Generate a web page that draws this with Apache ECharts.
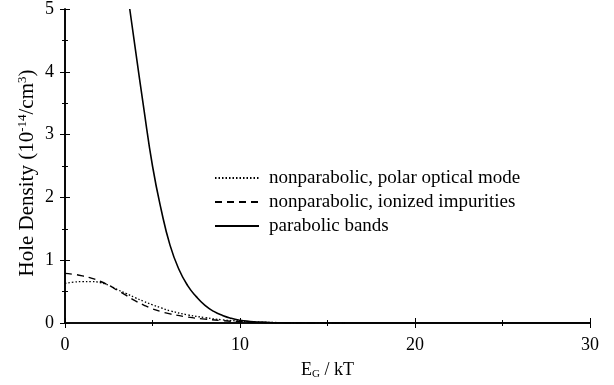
<!DOCTYPE html>
<html><head><meta charset="utf-8">
<script src="https://cdn.jsdelivr.net/npm/echarts@6/dist/echarts.min.js"></script>
<style>html,body{margin:0;padding:0;background:#fff}#c{width:614px;height:385px}</style>
</head><body><div id="c"></div>
<script>
var xTicks = [0, 10, 20, 30];
var yTicks = [0, 1, 2, 3, 4, 5];
var seriesNames = ['nonparabolic, polar optical mode', 'nonparabolic, ionized impurities', 'parabolic bands'];
var dottedX = [0, 0.5, 1, 1.5, 2, 2.5, 3, 3.5, 4, 4.5, 5, 5.5, 6, 7, 8, 9, 10, 11, 12, 14, 16];
var dottedY = [0.63, 0.65, 0.66, 0.66, 0.645, 0.6, 0.53, 0.47, 0.405, 0.345, 0.29, 0.24, 0.195, 0.13, 0.085, 0.05, 0.03, 0.016, 0.008, 0.002, 0];
var dashedX = [0, 0.5, 1, 1.5, 2, 2.5, 3, 3.5, 4, 4.5, 5, 5.5, 6, 7, 8, 9, 10, 11, 12, 14, 16];
var dashedY = [0.79, 0.775, 0.75, 0.715, 0.665, 0.6, 0.52, 0.44, 0.355, 0.285, 0.225, 0.18, 0.145, 0.095, 0.062, 0.038, 0.021, 0.011, 0.006, 0.001, 0];
var solidX = [3.7, 4.0, 4.5, 5.0, 5.5, 6.0, 6.5, 7.0, 7.5, 8.0, 8.5, 9.0, 9.5, 10, 10.5, 11, 12, 13, 14, 30];
var solidY = [5.0, 4.4, 3.42, 2.5, 1.8, 1.24, 0.86, 0.6, 0.42, 0.28, 0.185, 0.12, 0.075, 0.045, 0.026, 0.014, 0.004, 0.001, 0, 0];

function pairs(xs, ys) { return xs.map(function (x, i) { return [x, ys[i]]; }); }

var FONT = 'Liberation Serif';
var axisLine = { show: true, lineStyle: { color: '#000', width: 1.6 } };
function xAx(pos, labels) {
  return {
    type: 'value', position: pos, min: xTicks[0], max: xTicks[xTicks.length - 1], interval: 10,
    axisLine: axisLine,
    axisTick: { show: true, inside: true, length: 5, lineStyle: { color: '#000', width: 1 } },
    minorTick: { show: true, splitNumber: 2, length: 3, lineStyle: { color: '#000', width: 1 } },
    splitLine: { show: false }, minorSplitLine: { show: false },
    axisLabel: { show: labels, color: '#000', fontFamily: FONT, fontSize: 18, margin: 13 }
  };
}
function yAx(pos, labels) {
  return {
    type: 'value', position: pos, min: yTicks[0], max: yTicks[yTicks.length - 1], interval: 1,
    axisLine: axisLine,
    axisTick: { show: true, inside: true, length: 5, lineStyle: { color: '#000', width: 1 } },
    minorTick: { show: true, splitNumber: 2, length: 3, lineStyle: { color: '#000', width: 1 } },
    splitLine: { show: false }, minorSplitLine: { show: false },
    axisLabel: { show: labels, color: '#000', fontFamily: FONT, fontSize: 18, margin: 11 }
  };
}
var xa0 = xAx('bottom', true);
xa0.name = 'E{sub|G} / kT';
xa0.nameLocation = 'middle';
xa0.nameGap = 38;
xa0.nameTextStyle = { color: '#000', fontFamily: FONT, fontSize: 18,
  rich: { sub: { fontSize: 11, fontFamily: FONT, color: '#000', padding: [8, 0, 0, 0] } } };
var ya0 = yAx('left', true);
ya0.name = 'Hole Density (10{sup|-14}/cm{sup|3})';
ya0.nameLocation = 'middle';
ya0.nameGap = 26;
ya0.nameMoveOverlap = false;
ya0.nameTextStyle = { color: '#000', fontFamily: FONT, fontSize: 21, padding: [0, 14, 0, 0],
  rich: { sup: { fontSize: 13, fontFamily: FONT, color: '#000', padding: [0, 0, 10, 0] } } };

var chart = echarts.init(document.getElementById('c'), null, { renderer: 'canvas' });
chart.setOption({
  animation: false,
  backgroundColor: '#fff',
  color: ['#000', '#000', '#000'],
  grid: { left: 65, right: 24, top: 4, bottom: 58 },
  xAxis: [xa0, xAx('top', false)],
  yAxis: [ya0, yAx('right', false)],
  legend: {
    orient: 'vertical', left: 214, top: 168, padding: 0, itemWidth: 44, itemHeight: 14, itemGap: 4,
    itemStyle: { opacity: 0 },
    textStyle: { color: '#000', fontFamily: FONT, fontSize: 19, lineHeight: 20, padding: [0, 0, 0, 5] },
    data: seriesNames
  },
  series: [
    { name: seriesNames[0], type: 'line', symbol: 'none', smooth: 0.5, data: pairs(dottedX, dottedY),
      itemStyle: { color: '#000' }, lineStyle: { color: '#000', width: 1.3, type: [1.5, 2] } },
    { name: seriesNames[1], type: 'line', symbol: 'none', smooth: 0.5, data: pairs(dashedX, dashedY),
      itemStyle: { color: '#000' }, lineStyle: { color: '#000', width: 1.4, type: [7, 5] } },
    { name: seriesNames[2], type: 'line', symbol: 'none', smooth: 0.5, data: pairs(solidX, solidY),
      itemStyle: { color: '#000' }, lineStyle: { color: '#000', width: 1.6 } }
  ]
});
</script></body></html>
